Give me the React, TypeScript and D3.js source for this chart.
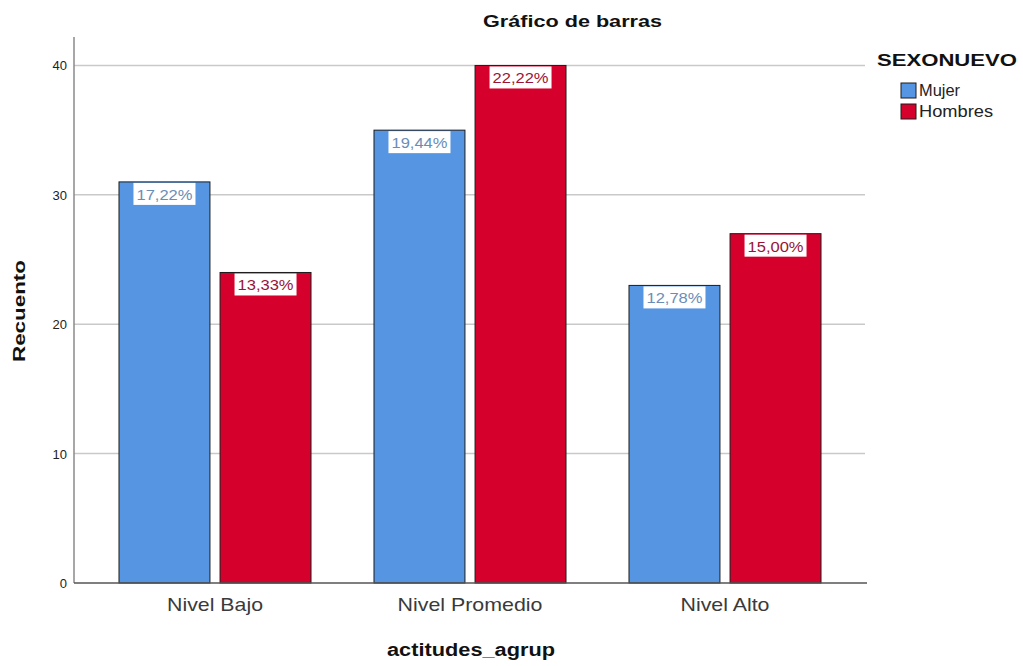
import React from "react";
import * as d3 from "d3";

const categories = ["Nivel Bajo", "Nivel Promedio", "Nivel Alto"];
const seriesNames = ["Mujer", "Hombres"];
const mujerValues = [31, 35, 23];
const hombresValues = [24, 40, 27];
const mujerLabels = ["17,22%", "19,44%", "12,78%"];
const hombresLabels = ["13,33%", "22,22%", "15,00%"];
const yTicks = [0, 10, 20, 30, 40];
const categoryWidths = [96, 145, 89];

const width = 1023;
const height = 666;
const font = "'Liberation Sans', Arial, sans-serif";

const colors = ["#5595e2", "#d5002c"];
const labelColors = ["#6a8db8", "#9a1535"];

const App = () => {
  const x0 = d3
    .scaleBand()
    .domain(categories)
    .range([87.5, 852.5])
    .paddingInner(0.247)
    .paddingOuter(0.1235);
  const x1 = d3
    .scaleBand()
    .domain(seriesNames)
    .range([0, x0.bandwidth()])
    .paddingInner(0.1);
  const y = d3.scaleLinear().domain([0, 42.2]).range([583, 37]);

  const bars = categories.flatMap((c, i) => [
    { cat: c, s: 0, v: mujerValues[i], label: mujerLabels[i] },
    { cat: c, s: 1, v: hombresValues[i], label: hombresLabels[i] },
  ]);

  return (
    <svg
      width={width}
      height={height}
      style={{ position: "absolute", left: 0, top: 0, fontFamily: font }}
    >
      <rect width={width} height={height} fill="#fff" />
      {/* gridlines */}
      {yTicks
        .filter((t) => t > 0)
        .map((t) => (
          <line
            key={t}
            x1={74}
            x2={865}
            y1={y(t)}
            y2={y(t)}
            stroke="#c9c9c9"
            strokeWidth={1.5}
          />
        ))}
      {yTicks.map((t) => (
        <text
          key={"t" + t}
          x={67}
          y={y(t) + 5}
          textAnchor="end"
          fontSize={13}
          fill="#222"
        >
          {t}
        </text>
      ))}
      <line x1={74} x2={74} y1={37} y2={583} stroke="#8a8a8a" strokeWidth={1.5} />

      {bars.map((b, i) => {
        const bx = x0(b.cat)! + x1(seriesNames[b.s])!;
        const bw = x1.bandwidth();
        const by = y(b.v);
        return (
          <g key={i}>
            <rect
              x={bx}
              y={by}
              width={bw}
              height={583 - by}
              fill={colors[b.s]}
              stroke="#1c1c1c"
              strokeWidth={1}
            />
            <rect
              x={bx + bw / 2 - 31}
              y={by + 1}
              width={62}
              height={22}
              fill="#fff"
            />
            <text
              x={bx + bw / 2}
              y={by + 18}
              textAnchor="middle"
              fontSize={14}
              textLength={56}
              lengthAdjust="spacingAndGlyphs"
              fill={labelColors[b.s]}
            >
              {b.label}
            </text>
          </g>
        );
      })}
      <line x1={74} x2={867} y1={583} y2={583} stroke="#555" strokeWidth={1.5} />

      {categories.map((c, i) => (
        <text
          key={c}
          x={x0(c)! + x0.bandwidth() / 2}
          y={611}
          textAnchor="middle"
          fontSize={19}
          textLength={categoryWidths[i]}
          lengthAdjust="spacingAndGlyphs"
          fill="#3a3a3a"
        >
          {c}
        </text>
      ))}

      <text
        x={572.5}
        y={27}
        textAnchor="middle"
        fontSize={17}
        fontWeight="bold"
        textLength={179}
        lengthAdjust="spacingAndGlyphs"
        fill="#111"
      >
        Gráfico de barras
      </text>
      <text
        transform="translate(25,311) rotate(-90)"
        textAnchor="middle"
        fontSize={17}
        fontWeight="bold"
        textLength={102}
        lengthAdjust="spacingAndGlyphs"
        fill="#111"
      >
        Recuento
      </text>
      <text
        x={471}
        y={656}
        textAnchor="middle"
        fontSize={18}
        fontWeight="bold"
        textLength={168}
        lengthAdjust="spacingAndGlyphs"
        fill="#111"
      >
        actitudes_agrup
      </text>

      {/* legend */}
      <text
        x={877}
        y={66}
        fontSize={17}
        fontWeight="bold"
        textLength={140}
        lengthAdjust="spacingAndGlyphs"
        fill="#111"
      >
        SEXONUEVO
      </text>
      {seriesNames.map((s, i) => (
        <g key={s} transform={`translate(901,${83 + i * 21})`}>
          <rect width={15} height={15} fill={colors[i]} stroke="#1c1c1c" />
          <text
            x={18}
            y={13}
            fontSize={16}
            textLength={s === "Mujer" ? 41 : 74}
            lengthAdjust="spacingAndGlyphs"
            fill="#222"
          >
            {s}
          </text>
        </g>
      ))}
    </svg>
  );
};

export default App;
